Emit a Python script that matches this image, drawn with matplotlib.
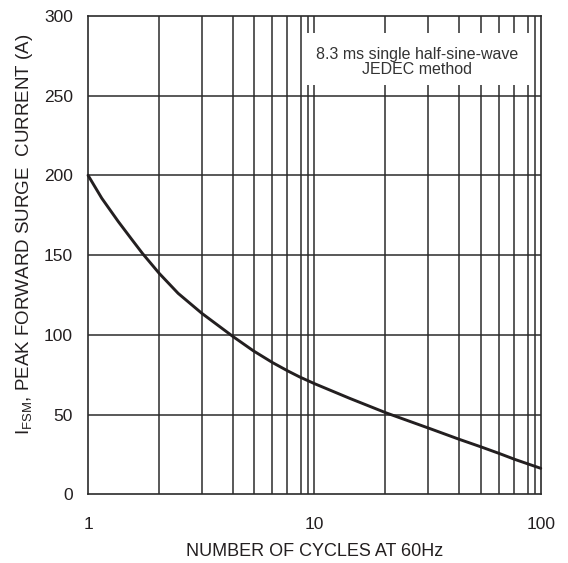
import numpy as np
import matplotlib
matplotlib.use("Agg")
import matplotlib.pyplot as plt
from matplotlib.patches import Rectangle
from matplotlib.ticker import FixedLocator, NullFormatter

plt.rcParams['font.family'] = ['Liberation Sans', 'DejaVu Sans']
plt.rcParams['mathtext.fontset'] = 'custom'
plt.rcParams['mathtext.rm'] = 'Liberation Sans'

# --- DATA ---
cycles = [1, 1.15, 1.36, 1.56, 1.74, 2.06, 2.5, 3.18, 4.38, 5.37, 6.53, 7.64,
          8.63, 10, 14.3, 20.8, 32.1, 43.6, 54.3, 65.3, 76.8, 100]
ifsm = [200, 185.6, 171, 159.8, 151, 138.6, 126, 113.5, 98.8, 90.0, 82.6, 77.3,
        73.5, 69.4, 60.2, 51, 41.4, 34.5, 29.8, 25.7, 21.9, 16.3]

x_ticks = [1, 10, 100]
y_ticks = [0, 50, 100, 150, 200, 250, 300]
# grid lines as drawn on the original sheet (slightly off true log positions)
grid_x = [2.06, 3.2, 4.35, 5.4, 6.5, 7.6, 8.7, 9.4, 10,
          20.6, 31.9, 43.4, 54.3, 65.2, 76, 87.6, 94]

INK = '#231f20'

fig = plt.figure(figsize=(5.68, 5.63), dpi=100)
ax = fig.add_axes([0.155, 0.122, 0.797, 0.850])

ax.set_xscale('log')
ax.set_xlim(1, 100)
ax.set_ylim(0, 300)

ax.set_xticks(x_ticks)
ax.set_xticklabels(['1', '10', '100'])
ax.xaxis.set_minor_locator(FixedLocator(grid_x))
ax.xaxis.set_minor_formatter(NullFormatter())
ax.set_yticks(y_ticks)

ax.tick_params(which='both', length=0, labelsize=12.5, colors=INK)
ax.tick_params(axis='x', pad=16)
ax.tick_params(axis='y', pad=11)

for xv in grid_x:
    ax.axvline(xv, color='#2b2b2b', lw=1.1, zorder=1)
for yv in y_ticks[1:-1]:
    ax.axhline(yv, color='#2b2b2b', lw=1.1, zorder=1)

for s in ax.spines.values():
    s.set_color('#2b2b2b')
    s.set_linewidth(1.2)

# white label box that breaks the grid
ax.add_patch(Rectangle((0.477, 0.855), 0.50, 0.109, transform=ax.transAxes,
                       facecolor='white', edgecolor='none', zorder=2))
ax.text(0.727, 0.904, '8.3 ms single half-sine-wave\nJEDEC method',
        transform=ax.transAxes, ha='center', va='center', fontsize=11.5,
        color='#333333', linespacing=1.0, zorder=3)

ax.plot(cycles, ifsm, color=INK, lw=2.1, zorder=4, clip_on=False,
        solid_joinstyle='round', solid_capstyle='round')

ax.set_xlabel('NUMBER OF CYCLES AT 60Hz', fontsize=13, color=INK, labelpad=8)
ax.set_ylabel(r'I$_{\mathregular{FSM}}$, PEAK FORWARD SURGE  CURRENT (A)',
              fontsize=13.5, color=INK)
ax.yaxis.set_label_coords(-0.117, 0.544)

fig.savefig('out.png', dpi=100)
